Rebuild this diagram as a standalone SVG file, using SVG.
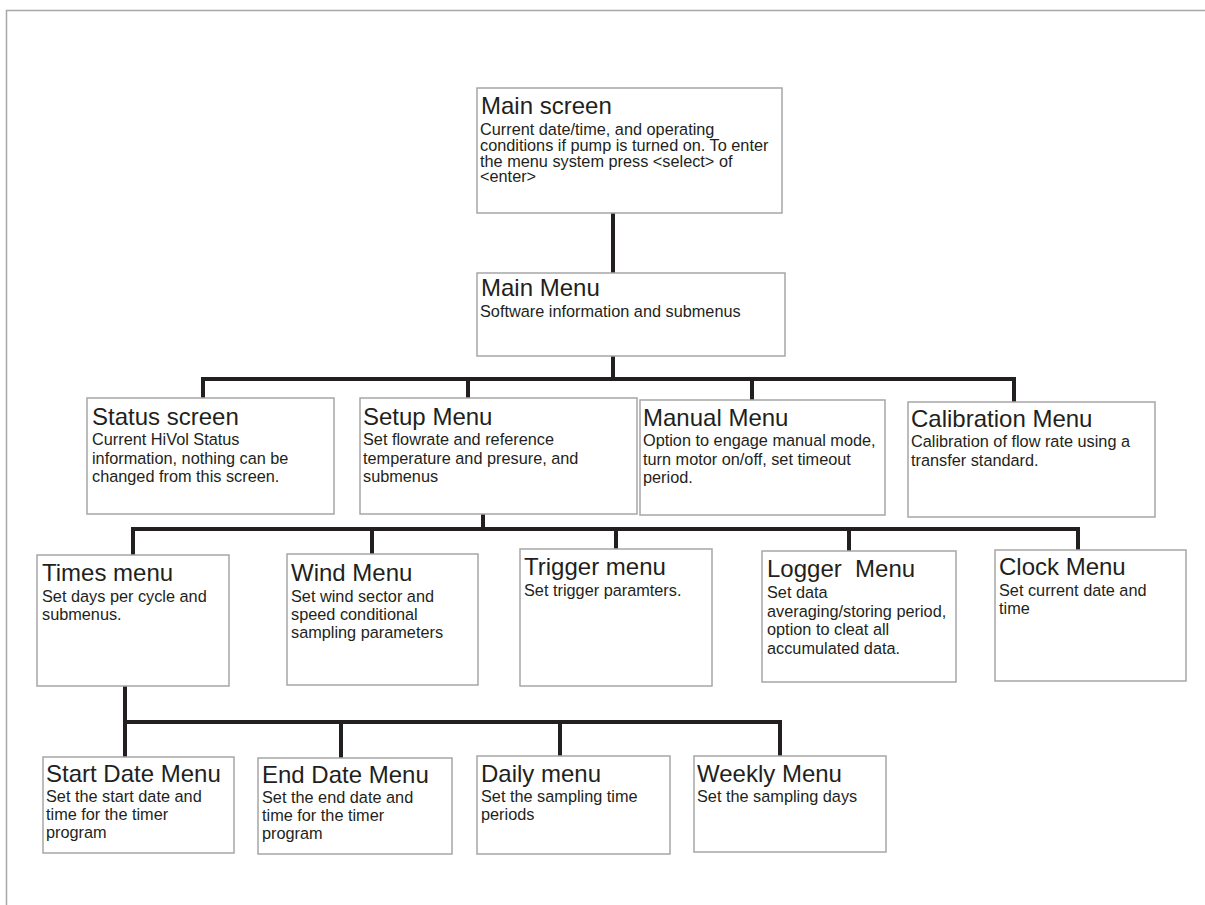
<svg xmlns="http://www.w3.org/2000/svg" width="1205" height="905" viewBox="0 0 1205 905">
<style>
.box{fill:#ffffff;stroke:#a6a6a6;stroke-width:1.5}
.t{font-family:"Liberation Sans",Arial,sans-serif;font-size:24px;fill:#231f20}
.b{font-family:"Liberation Sans",Arial,sans-serif;font-size:16.3px;fill:#231f20}
.c{fill:none;stroke:#231f20;stroke-width:4;stroke-linejoin:miter;stroke-linecap:butt}
.frame{fill:none;stroke:#a8a8a8;stroke-width:1.5}
</style>
<rect width="1205" height="905" fill="#ffffff"/>
<path class="frame" d="M1205,10.5 H6.5 V905"/>
<g id="connectors">
<path class="c" d="M613,213 V273"/>
<path class="c" d="M613,356 V379"/>
<path class="c" d="M203,398 V379 H1014 V402"/>
<path class="c" d="M468,379 V398"/>
<path class="c" d="M752,379 V400"/>
<path class="c" d="M483,514 V529"/>
<path class="c" d="M133,555 V529 H1078 V550"/>
<path class="c" d="M372,529 V554"/>
<path class="c" d="M616,529 V549"/>
<path class="c" d="M849,529 V551"/>
<path class="c" d="M125,686 V757"/>
<path class="c" d="M125,722 H780 V756"/>
<path class="c" d="M341,722 V758"/>
<path class="c" d="M560,722 V756"/>
</g>
<g id="main-screen">
<rect class="box" x="477" y="88" width="305" height="125"/>
<text class="t" x="481" y="114">Main screen</text>
<text class="b" x="480" y="135">Current date/time, and operating</text>
<text class="b" x="480" y="151">conditions if pump is turned on. To enter</text>
<text class="b" x="480" y="166.5">the menu system press &lt;select&gt; of</text>
<text class="b" x="480" y="182">&lt;enter&gt;</text>
</g>
<g id="main-menu">
<rect class="box" x="477" y="273" width="308" height="83"/>
<text class="t" x="481" y="296">Main Menu</text>
<text class="b" x="480" y="317">Software information and submenus</text>
</g>
<g id="status-screen">
<rect class="box" x="87" y="398" width="247" height="116"/>
<text class="t" x="92" y="425">Status screen</text>
<text class="b" x="92" y="445">Current HiVol Status</text>
<text class="b" x="92" y="463.5">information, nothing can be</text>
<text class="b" x="92" y="482">changed from this screen.</text>
</g>
<g id="setup-menu">
<rect class="box" x="360" y="398" width="277" height="116"/>
<text class="t" x="363" y="425">Setup Menu</text>
<text class="b" x="363" y="445">Set flowrate and reference</text>
<text class="b" x="363" y="463.5">temperature and presure, and</text>
<text class="b" x="363" y="482">submenus</text>
</g>
<g id="manual-menu">
<rect class="box" x="640" y="400" width="245" height="115"/>
<text class="t" x="643" y="426">Manual Menu</text>
<text class="b" x="643" y="446">Option to engage manual mode,</text>
<text class="b" x="643" y="464.5">turn motor on/off, set timeout</text>
<text class="b" x="643" y="483">period.</text>
</g>
<g id="calibration-menu">
<rect class="box" x="908" y="402" width="247" height="115"/>
<text class="t" x="911" y="427">Calibration Menu</text>
<text class="b" x="911" y="447">Calibration of flow rate using a</text>
<text class="b" x="911" y="465.5">transfer standard.</text>
</g>
<g id="times-menu">
<rect class="box" x="37" y="555" width="192" height="131"/>
<text class="t" x="42" y="581">Times menu</text>
<text class="b" x="42" y="602">Set days per cycle and</text>
<text class="b" x="42" y="620">submenus.</text>
</g>
<g id="wind-menu">
<rect class="box" x="287" y="554" width="191" height="131"/>
<text class="t" x="291" y="581">Wind Menu</text>
<text class="b" x="291" y="602">Set wind sector and</text>
<text class="b" x="291" y="620">speed conditional</text>
<text class="b" x="291" y="638">sampling parameters</text>
</g>
<g id="trigger-menu">
<rect class="box" x="520" y="549" width="192" height="137"/>
<text class="t" x="524" y="575">Trigger menu</text>
<text class="b" x="524" y="596">Set trigger paramters.</text>
</g>
<g id="logger-menu">
<rect class="box" x="762" y="551" width="194" height="131"/>
<text class="t" x="767" y="577" xml:space="preserve">Logger  Menu</text>
<text class="b" x="767" y="598">Set data</text>
<text class="b" x="767" y="616.5">averaging/storing period,</text>
<text class="b" x="767" y="635">option to cleat all</text>
<text class="b" x="767" y="653.5">accumulated data.</text>
</g>
<g id="clock-menu">
<rect class="box" x="995" y="550" width="191" height="131"/>
<text class="t" x="999" y="575">Clock Menu</text>
<text class="b" x="999" y="596">Set current date and</text>
<text class="b" x="999" y="614">time</text>
</g>
<g id="start-date-menu">
<rect class="box" x="43" y="757" width="191" height="96"/>
<text class="t" x="46" y="782">Start Date Menu</text>
<text class="b" x="46" y="802">Set the start date and</text>
<text class="b" x="46" y="820">time for the timer</text>
<text class="b" x="46" y="838">program</text>
</g>
<g id="end-date-menu">
<rect class="box" x="258" y="758" width="194" height="96"/>
<text class="t" x="262" y="783">End Date Menu</text>
<text class="b" x="262" y="803">Set the end date and</text>
<text class="b" x="262" y="821">time for the timer</text>
<text class="b" x="262" y="839">program</text>
</g>
<g id="daily-menu">
<rect class="box" x="477" y="756" width="193" height="98"/>
<text class="t" x="481" y="782">Daily menu</text>
<text class="b" x="481" y="802">Set the sampling time</text>
<text class="b" x="481" y="820">periods</text>
</g>
<g id="weekly-menu">
<rect class="box" x="694" y="756" width="192" height="96"/>
<text class="t" x="697" y="782">Weekly Menu</text>
<text class="b" x="697" y="802">Set the sampling days</text>
</g>
</svg>
